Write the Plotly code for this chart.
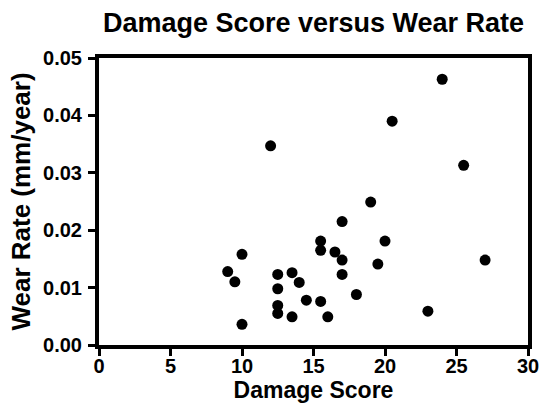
import plotly.graph_objects as go

damage_score = [24, 20.5, 12, 25.5, 19, 17, 15.5, 20, 15.5, 16.5, 10, 17, 27, 19.5, 9,
                12.5, 13.5, 17, 9.5, 14, 12.5, 18, 14.5, 15.5, 12.5, 23, 12.5, 13.5, 16, 10]
wear_rate = [0.0463, 0.0390, 0.0347, 0.0313, 0.0249, 0.0215, 0.0181, 0.0181, 0.0165, 0.0162,
             0.0158, 0.0148, 0.0148, 0.0141, 0.0128, 0.0123, 0.0126, 0.0123, 0.0110, 0.0109,
             0.0098, 0.0088, 0.0078, 0.0076, 0.0069, 0.0059, 0.0055, 0.0049, 0.0049, 0.0036]

x_ticks = [0, 5, 10, 15, 20, 25, 30]
y_ticks = [0.00, 0.01, 0.02, 0.03, 0.04, 0.05]

FONT = "Liberation Sans, Arial, sans-serif"

fig = go.Figure(go.Scatter(
    x=damage_score, y=wear_rate, mode="markers",
    marker=dict(color="black", size=11, line=dict(width=0)),
    showlegend=False, cliponaxis=False,
))

axis_common = dict(
    showline=True, linewidth=4, linecolor="black", mirror=True,
    ticks="outside", ticklen=7, tickwidth=3, tickcolor="black",
    showgrid=False, zeroline=False, automargin=False,
    tickfont=dict(family=FONT, size=20, color="black", weight="bold"),
)

fig.update_layout(
    width=544, height=407,
    margin=dict(l=99, r=16, t=58, b=62),
    paper_bgcolor="white", plot_bgcolor="white",
    title=dict(text="<b>Damage Score versus Wear Rate</b>", x=0.5, xref="paper",
               y=1 - 23 / 407, yref="container", xanchor="center", yanchor="middle",
               font=dict(family=FONT, size=27, color="black")),
    xaxis=dict(range=[0, 30], tickvals=x_ticks, ticktext=[str(v) for v in x_ticks],
               ticklabelstandoff=-7,
               title=dict(text="<b>Damage Score</b>", standoff=7,
                          font=dict(family=FONT, size=23, color="black")),
               **axis_common),
    yaxis=dict(range=[0, 0.05], tickvals=y_ticks, ticktext=[f"{v:.2f}" for v in y_ticks],
               ticklabelstandoff=2,
               title=dict(text="<b>Wear Rate (mm/year)</b>", standoff=6,
                          font=dict(family=FONT, size=26, color="black")),
               **axis_common),
)

fig.write_html(
    "out.html",
    config={"displayModeBar": False},
    post_script="document.body.style.margin='0';document.body.style.overflow='hidden';",
)
